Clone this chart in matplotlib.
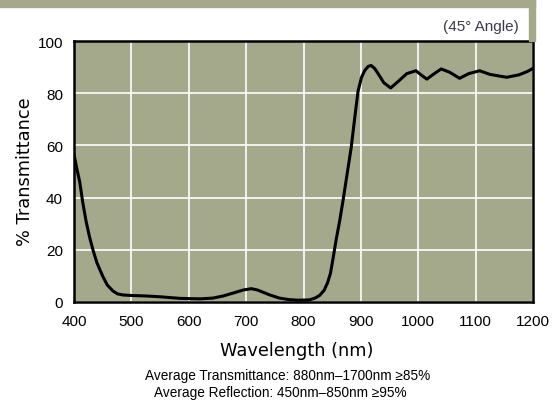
import matplotlib.pyplot as plt
from matplotlib.patches import Rectangle

wavelength = [400, 405, 410, 415, 421, 427, 433, 440, 450, 458, 468, 476, 485,
              500, 526, 550, 584, 600, 620, 642, 660, 680, 695, 709, 720, 740,
              758, 775, 790, 810, 820, 828, 836, 842, 847, 851, 857, 863, 869,
              876, 883, 889, 895, 901, 907, 913, 918, 924, 930, 940, 952, 965,
              980, 996, 1005, 1015, 1028, 1040, 1055, 1072, 1088, 1107, 1125,
              1154, 1175, 1190, 1200]
transmittance = [56.5, 51, 46, 38.5, 31, 25, 20, 15, 9.9, 6.5, 4.2, 3.1, 2.7,
                 2.5, 2.3, 2.0, 1.4, 1.3, 1.2, 1.5, 2.3, 3.6, 4.6, 5.1, 4.6, 2.8,
                 1.5, 0.9, 0.7, 0.8, 1.5, 2.5, 4.5, 7.4, 11, 16, 24, 31, 39,
                 49, 59, 70, 80.7, 86, 88.8, 90.3, 90.6, 89.5, 87.5, 84, 82, 84.5,
                 87.5, 88.6, 87, 85.4, 87.5, 89.3, 88, 85.7, 87.5, 88.6, 87.2,
                 86.1, 87, 88.3, 89.5]
xticks = [400, 500, 600, 700, 800, 900, 1000, 1100, 1200]
yticks = [0, 20, 40, 60, 80, 100]

olive = '#a5a88b'
arial = ['Liberation Sans', 'DejaVu Sans']

W, H = 556, 402
fig = plt.figure(figsize=(W / 100, H / 100), dpi=100)

# olive frame strips at top and right
fig.patches.append(Rectangle((0, 1 - 8 / H), 535 / W, 8 / H,
                             transform=fig.transFigure, color=olive, zorder=0))
fig.patches.append(Rectangle((529 / W, 1 - 42 / H), 6 / W, 42 / H,
                             transform=fig.transFigure, color=olive, zorder=0))

ax = fig.add_axes([74 / W, 1 - 303 / H, (533 - 74) / W, (303 - 42) / H])
ax.set_facecolor('#a4a98b')
ax.plot(wavelength, transmittance, color='black', lw=2.2, solid_capstyle='round',
        zorder=3)
ax.set_xlim(400, 1200)
ax.set_ylim(0, 100)
ax.set_xticks(xticks)
ax.set_yticks(yticks)
ax.grid(True, color='white', lw=1.2)
ax.set_axisbelow(True)
for s in ax.spines.values():
    s.set_linewidth(1.8)
ax.tick_params(length=0, labelsize=11)
ax.tick_params(axis='x', pad=9)
ax.tick_params(axis='y', pad=8)
for lab in ax.get_xticklabels() + ax.get_yticklabels():
    lab.set_family(arial)

fig.text(519 / W, 1 - 27 / H, '(45° Angle)', ha='right', va='center',
         fontsize=11, color='#3a3a4a', family=arial)
fig.text(297 / W, 1 - 351 / H, 'Wavelength (nm)', ha='center', va='center',
         fontsize=12.8)
fig.text(25 / W, 1 - 172 / H, '% Transmittance', ha='center', va='center',
         fontsize=12.8, rotation=90)
fig.text(288 / W, 1 - 376 / H, 'Average Transmittance: 880nm\u20131700nm \u226585%',
         ha='center', va='center', fontsize=9.8, family=arial)
fig.text(280 / W, 1 - 393 / H, 'Average Reflection: 450nm\u2013850nm \u226595%',
         ha='center', va='center', fontsize=9.8, family=arial)

fig.savefig('out.png', dpi=100)
